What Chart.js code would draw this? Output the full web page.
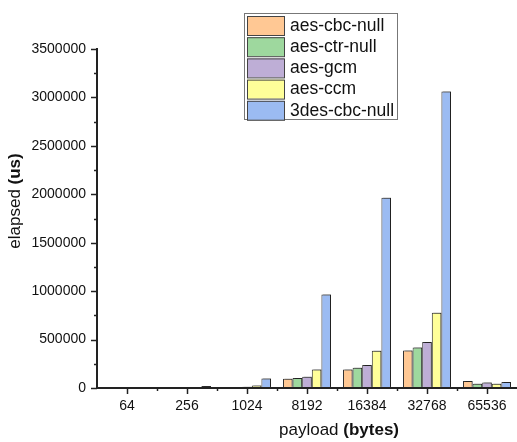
<!DOCTYPE html>
<html><head><meta charset="utf-8">
<script src="https://cdn.jsdelivr.net/npm/chart.js@4/dist/chart.umd.min.js"></script>
<style>html,body{margin:0;padding:0;background:#fff}</style>
</head><body>
<canvas id="c" width="517" height="442"></canvas>
<script>
const categories = ['64', '256', '1024', '8192', '16384', '32768', '65536'];
const seriesNames = ['aes-cbc-null', 'aes-ctr-null', 'aes-gcm', 'aes-ccm', '3des-cbc-null'];
const aesCbcNull  = [800,  2500, 10000,  95000,  190000,  387000, 72000];
const aesCtrNull  = [900,  2800, 11000, 102000,  210000,  418000, 45000];
const aesGcm      = [1000, 3000, 12000, 115000,  237000,  476000, 56000];
const aesCcm      = [1000, 3200, 25000, 190000,  385000,  776000, 45000];
const des3CbcNull = [2500, 20000, 98000, 965000, 1965000, 3060000, 62000];
const yMin = 0, yMax = 3500000, yStep = 500000, yMinorStep = 250000;
const seriesColors = ['#FFC894', '#9ED89E', '#BEAED6', '#FFFF99', '#9BBBF2'];

const FONT = '"Liberation Sans", Arial, sans-serif';
const allSeries = [aesCbcNull, aesCtrNull, aesGcm, aesCcm, des3CbcNull];

const ticksPlugin = {
  id: 'ticksPlugin',
  afterDraw(chart) {
    const ctx = chart.ctx;
    const y = chart.scales.y, x = chart.scales.x;
    const ca = chart.chartArea;
    ctx.save();
    ctx.strokeStyle = '#222';
    ctx.lineWidth = 1.5;
    for (let v = yMin; v <= yMax; v += yMinorStep) {
      const py = Math.round(y.getPixelForValue(v)) + 0.5;
      const major = (v % yStep) === 0;
      ctx.beginPath();
      ctx.moveTo(ca.left - (major ? 6 : 3), py);
      ctx.lineTo(ca.left, py);
      ctx.stroke();
    }
    const n = categories.length;
    for (let i = 0; i < n; i++) {
      const px = Math.round(x.getPixelForTick(i)) + 0.5;
      ctx.beginPath();
      ctx.moveTo(px, ca.bottom);
      ctx.lineTo(px, ca.bottom + 6);
      ctx.stroke();
      if (i > 0) {
        const bx = Math.round((x.getPixelForTick(i) + x.getPixelForTick(i - 1)) / 2) + 0.5;
        ctx.beginPath();
        ctx.moveTo(bx, ca.bottom);
        ctx.lineTo(bx, ca.bottom + 3);
        ctx.stroke();
      }
    }
    ctx.restore();

    ctx.save();
    ctx.fillStyle = '#111';
    ctx.textBaseline = 'middle';
    const normal = '17px ' + FONT, bold = 'bold 17px ' + FONT;
    ctx.font = normal; const w1 = ctx.measureText('payload ').width;
    ctx.font = bold; const w2 = ctx.measureText('(bytes)').width;
    let sx = 339 - (w1 + w2) / 2;
    ctx.textAlign = 'left';
    ctx.font = normal; ctx.fillText('payload ', sx, 430);
    ctx.font = bold; ctx.fillText('(bytes)', sx + w1, 430);
    ctx.translate(15, 201);
    ctx.rotate(-Math.PI / 2);
    ctx.font = normal; const w3 = ctx.measureText('elapsed ').width;
    ctx.font = bold; const w4 = ctx.measureText('(us)').width;
    sx = -(w3 + w4) / 2;
    ctx.font = normal; ctx.fillText('elapsed ', sx, 0);
    ctx.font = bold; ctx.fillText('(us)', sx + w3, 0);
    ctx.restore();

    ctx.save();
    const lx = 244, ly = 13, lw = 153, lh = 106;
    ctx.fillStyle = '#fff';
    ctx.fillRect(lx, ly, lw, lh);
    ctx.strokeStyle = '#777';
    ctx.lineWidth = 1;
    ctx.strokeRect(lx + 0.5, ly + 0.5, lw, lh);
    ctx.font = '17.5px ' + FONT;
    ctx.textBaseline = 'middle';
    ctx.textAlign = 'left';
    chart.data.datasets.forEach((ds, i) => {
      const ry = ly + 3 + i * 21.2;
      ctx.fillStyle = ds.backgroundColor;
      ctx.fillRect(lx + 3, ry, 37, 19);
      ctx.strokeStyle = '#444';
      ctx.strokeRect(lx + 3.5, ry + 0.5, 37, 19);
      ctx.fillStyle = '#111';
      ctx.fillText(ds.label, lx + 46, ry + 10);
    });
    ctx.restore();
  }
};

const shadowPlugin = {
  id: 'shadowPlugin',
  beforeDatasetsDraw(chart) {
    const ctx = chart.ctx;
    ctx.save();
    ctx.shadowColor = 'rgba(0,0,0,0.35)';
    ctx.shadowOffsetX = 1.5;
    ctx.shadowOffsetY = -1.5;
    ctx.shadowBlur = 0;
  },
  afterDatasetsDraw(chart) { chart.ctx.restore(); }
};

new Chart(document.getElementById('c'), {
  type: 'bar',
  data: {
    labels: categories,
    datasets: seriesNames.map((name, i) => ({
      label: name,
      data: allSeries[i],
      backgroundColor: seriesColors[i],
      borderColor: '#333',
      borderWidth: 1,
      categoryPercentage: 0.8,
      barPercentage: 1.0
    }))
  },
  options: {
    responsive: false,
    animation: false,
    devicePixelRatio: 1,
    layout: { padding: { top: 49, left: 0, right: 0, bottom: 0 } },
    plugins: { legend: { display: false }, tooltip: { enabled: false } },
    scales: {
      x: {
        offset: true,
        grid: { display: false, drawTicks: false },
        border: { display: true, color: '#222', width: 2, z: 1 },
        ticks: { color: '#111', font: { family: FONT, size: 14 }, padding: 10, maxRotation: 0 },
        afterFit(s) { s.height = 54; }
      },
      y: {
        min: yMin, max: yMax,
        grid: { display: false, drawTicks: false },
        border: { display: true, color: '#222', width: 2, z: 1 },
        ticks: { stepSize: yStep, color: '#111', font: { family: FONT, size: 14 }, padding: 11,
                 callback: (v) => String(v) },
        afterFit(s) { s.width = 97; }
      }
    }
  },
  plugins: [shadowPlugin, ticksPlugin]
});
</script>
</body></html>
